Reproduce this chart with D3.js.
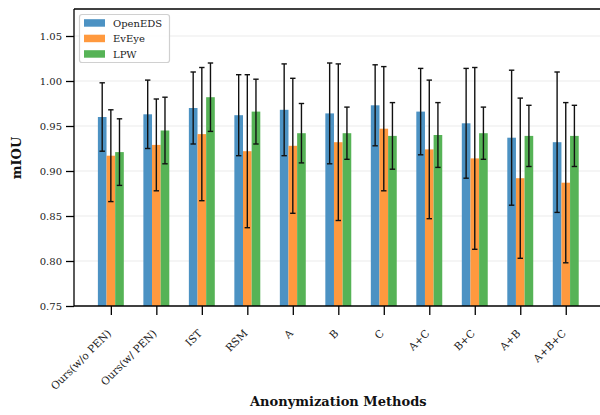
<!DOCTYPE html>
<html>
<head>
<meta charset="utf-8">
<script src="https://cdn.jsdelivr.net/npm/d3@7/dist/d3.min.js"></script>
<style>
  html, body { margin: 0; padding: 0; background: #fff; }
  svg { display: block; }
  text { font-family: "DejaVu Serif", serif; }
</style>
</head>
<body>
<svg id="chart" width="600" height="415"></svg>
<script>
const categories = ["Ours(w/o PEN)", "Ours(w/ PEN)", "IST", "RSM", "A", "B", "C", "A+C", "B+C", "A+B", "A+B+C"];
const seriesNames = ["OpenEDS", "EvEye", "LPW"];
const openEDS     = [0.960, 0.963, 0.970, 0.962, 0.968, 0.964, 0.973, 0.966, 0.953, 0.937, 0.932];
const openEDSErr  = [0.038, 0.038, 0.040, 0.045, 0.051, 0.056, 0.045, 0.048, 0.061, 0.075, 0.078];
const evEye       = [0.917, 0.929, 0.941, 0.922, 0.928, 0.932, 0.947, 0.924, 0.914, 0.892, 0.887];
const evEyeErr    = [0.051, 0.051, 0.074, 0.085, 0.075, 0.087, 0.069, 0.077, 0.101, 0.089, 0.089];
const lpw         = [0.921, 0.945, 0.982, 0.966, 0.942, 0.942, 0.939, 0.940, 0.942, 0.939, 0.939];
const lpwErr      = [0.037, 0.037, 0.038, 0.036, 0.033, 0.029, 0.037, 0.036, 0.029, 0.034, 0.034];
const yTicks = [0.75, 0.80, 0.85, 0.90, 0.95, 1.00, 1.05];
const yTickLabels = ["0.75", "0.80", "0.85", "0.90", "0.95", "1.00", "1.05"];

const colors = ["#4c92c3", "#ff993e", "#56b356"];
const values = [openEDS, evEye, lpw];
const errors = [openEDSErr, evEyeErr, lpwErr];

const svg = d3.select("#chart");
const pLeft = 74, pRight = 602.6, pTop = 9, pBottom = 306;

const x = d3.scaleLinear().domain([-0.81, categories.length - 1 + 0.81]).range([pLeft, pRight]);
const y = d3.scaleLinear().domain([0.75, 1.08]).range([pBottom, pTop]);
const barW = 0.19;

// grid
svg.append("g").selectAll("line").data(yTicks.slice(1)).join("line")
  .attr("x1", pLeft).attr("x2", pRight)
  .attr("y1", d => y(d)).attr("y2", d => y(d))
  .attr("stroke", "#ebebeb").attr("stroke-width", 1);

// bars
const gBars = svg.append("g");
values.forEach((vals, s) => {
  gBars.append("g").selectAll("rect").data(vals).join("rect")
    .attr("x", (d, i) => x(i + (s - 1) * barW - barW / 2))
    .attr("width", x(barW) - x(0))
    .attr("y", d => y(d))
    .attr("height", d => y(0.75) - y(d))
    .attr("fill", colors[s]);
});

// error bars
const gErr = svg.append("g").attr("stroke", "#111").attr("stroke-width", 1.4);
values.forEach((vals, s) => {
  vals.forEach((v, i) => {
    const cx = x(i + (s - 1) * barW);
    const e = errors[s][i];
    const y1 = y(v + e), y2 = y(v - e);
    gErr.append("line").attr("x1", cx).attr("x2", cx).attr("y1", y1).attr("y2", y2);
    gErr.append("line").attr("x1", cx - 2.7).attr("x2", cx + 2.7).attr("y1", y1).attr("y2", y1);
    gErr.append("line").attr("x1", cx - 2.7).attr("x2", cx + 2.7).attr("y1", y2).attr("y2", y2);
  });
});

// spines
svg.append("line").attr("x1", pLeft).attr("x2", pLeft).attr("y1", pTop).attr("y2", pBottom)
  .attr("stroke", "#000").attr("stroke-width", 1.3);
svg.append("line").attr("x1", pLeft).attr("x2", pRight).attr("y1", pBottom).attr("y2", pBottom)
  .attr("stroke", "#000").attr("stroke-width", 1.3);
svg.append("line").attr("x1", pLeft).attr("x2", pRight).attr("y1", pTop).attr("y2", pTop)
  .attr("stroke", "#000").attr("stroke-width", 1.3);

// y axis
const yAxis = d3.axisLeft(y).tickValues(yTicks).tickFormat((d, i) => yTickLabels[i]).tickSize(8).tickPadding(4);
const gy = svg.append("g").attr("transform", `translate(${pLeft},0)`).call(yAxis);
gy.select(".domain").remove();
gy.selectAll(".tick line").attr("stroke", "#000").attr("stroke-width", 1.3);
gy.selectAll(".tick text").attr("font-family", "DejaVu Serif").attr("font-size", 10).attr("fill", "#222");

// x axis
const xAxis = d3.axisBottom(x).tickValues(d3.range(categories.length)).tickFormat(i => categories[i]).tickSize(9).tickPadding(3);
const gx = svg.append("g").attr("transform", `translate(0,${pBottom})`).call(xAxis);
gx.select(".domain").remove();
gx.selectAll(".tick line").attr("stroke", "#000").attr("stroke-width", 1.3);
gx.selectAll(".tick text")
  .attr("font-family", "DejaVu Serif").attr("font-size", 10.5).attr("fill", "#222")
  .attr("text-anchor", "end")
  .attr("dy", 0)
  .attr("y", 0)
  .attr("transform", "translate(0.5,28) rotate(-45)");

// axis labels
svg.append("text").attr("x", (pLeft + pRight) / 2).attr("y", 406)
  .attr("text-anchor", "middle").attr("font-weight", "bold").attr("font-size", 13)
  .attr("fill", "#111").text("Anonymization Methods");
svg.append("text").attr("transform", `translate(21,158) rotate(-90)`)
  .attr("text-anchor", "middle").attr("font-weight", "bold").attr("font-size", 13)
  .attr("fill", "#111").text("mIOU");

// legend
const lg = svg.append("g");
lg.append("rect").attr("x", 79.5).attr("y", 14.5).attr("width", 90).attr("height", 48)
  .attr("rx", 2.5).attr("fill", "#fff").attr("fill-opacity", 0.85)
  .attr("stroke", "#d0d0d0").attr("stroke-width", 1.2);
seriesNames.forEach((n, s) => {
  const cy = 23 + s * 15.5;
  lg.append("rect").attr("x", 84).attr("y", cy - 3.8).attr("width", 21).attr("height", 7.5).attr("fill", colors[s]);
  lg.append("text").attr("x", 113).attr("y", cy + 3.6).attr("font-size", 10).attr("fill", "#222").text(n);
});
</script>
</body>
</html>
